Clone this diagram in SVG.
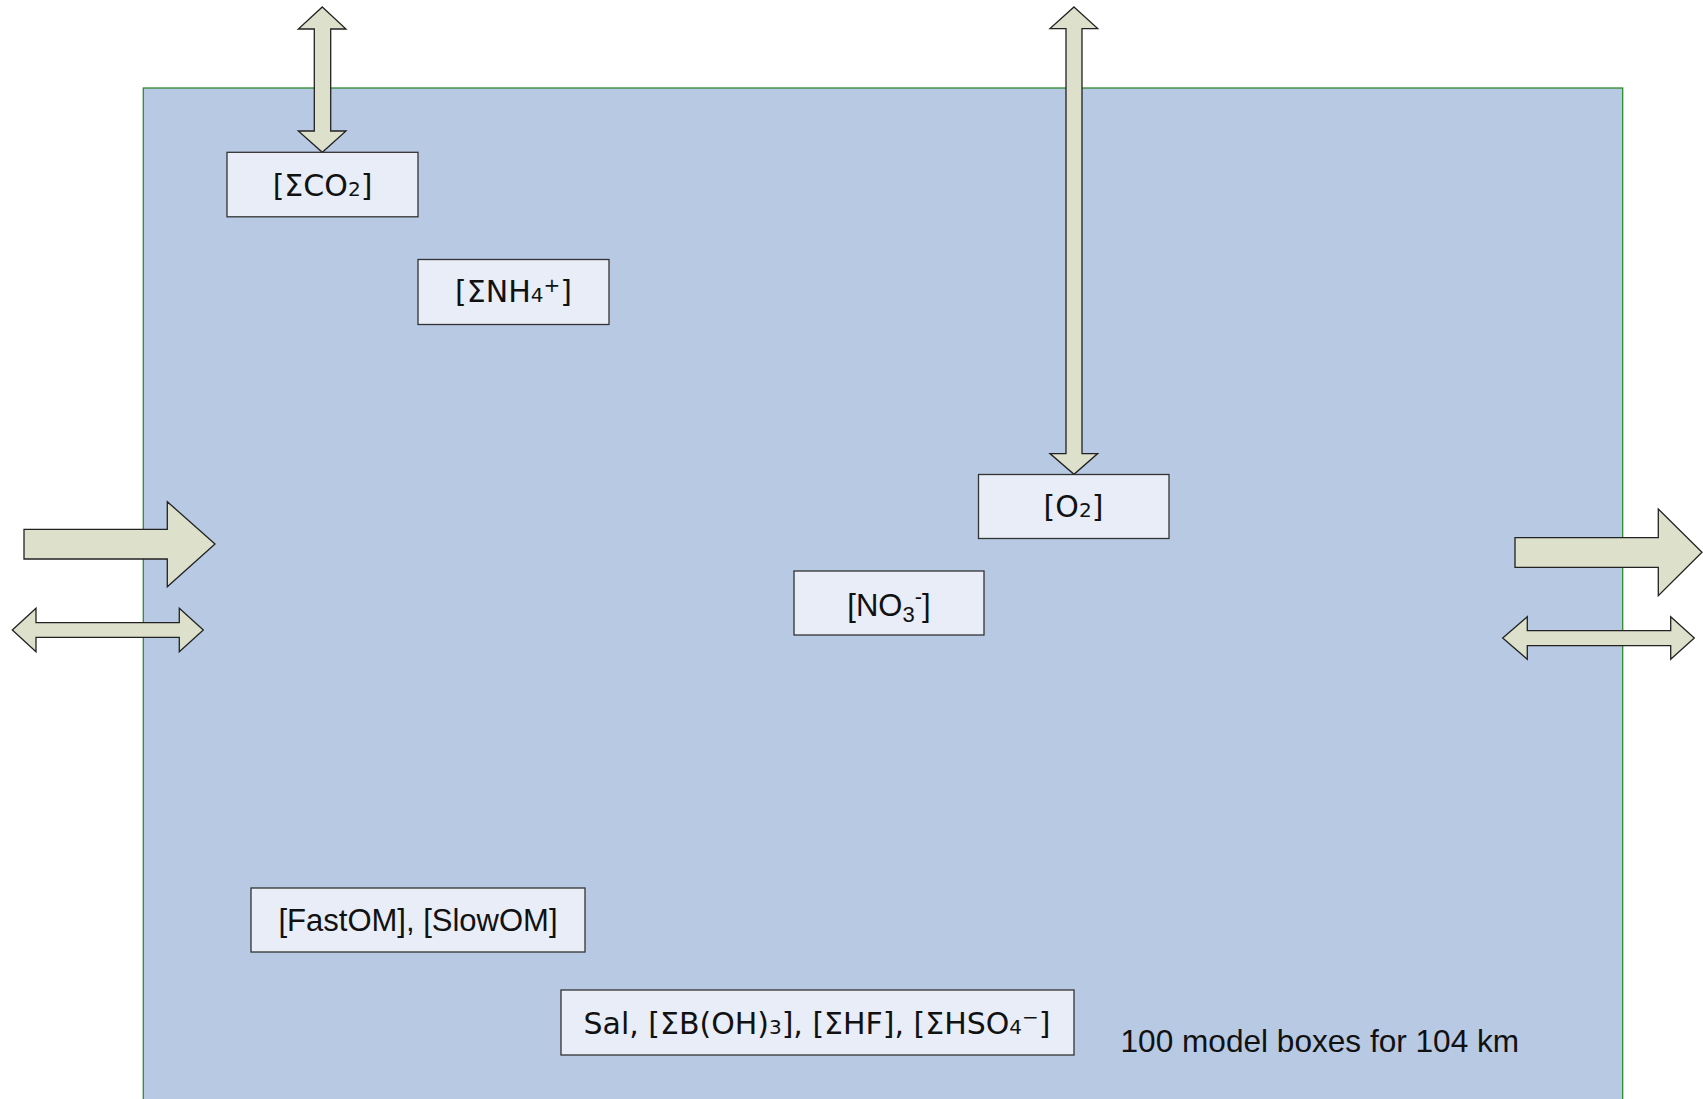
<svg xmlns="http://www.w3.org/2000/svg" width="1703" height="1099" viewBox="0 0 1703 1099">
<style>
.bg{fill:#B8C9E3;stroke:#2E8B2E;stroke-width:1.3}
.box{fill:#E8EDF7;stroke:#333;stroke-width:1.3}
.arr{fill:#DDE0CB;stroke:#222;stroke-width:1.3;stroke-linejoin:miter}
.t1{font-family:"DejaVu Sans",sans-serif;font-size:30px;fill:#111;text-anchor:middle}
.t2{font-family:"Liberation Sans",Arial,sans-serif;font-size:31px;fill:#111;text-anchor:middle}
.t3{font-family:"Liberation Sans",Arial,sans-serif;font-size:31.6px;fill:#111}
.s{font-size:20px}
</style>
<rect class="bg" x="143.3" y="88" width="1479.4" height="1030"/>
<g id="connectors">
<polygon class="arr" points="322.3,7 346,29 330.7,29 330.7,131 346,131 322.3,152.3 298.3,131 314.3,131 314.3,29 298.3,29"/>
<polygon class="arr" points="1074,7 1097.7,28.6 1082,28.6 1082,453.6 1097.7,453.6 1074,474.3 1050,453.6 1066,453.6 1066,28.6 1050,28.6"/>
<polygon class="arr" points="24,529.3 167.3,529.3 167.3,501.7 215,544 167.3,586.7 167.3,559 24,559"/>
<polygon class="arr" points="12.3,630 36,608.3 36,622.7 179.3,622.7 179.3,608.3 203.3,630 179.3,651.7 179.3,637.3 36,637.3 36,651.7"/>
<polygon class="arr" points="1515,537.7 1658.3,537.7 1658.3,509 1702,552.3 1658.3,595.7 1658.3,567.3 1515,567.3"/>
<polygon class="arr" points="1502.7,638 1527.3,616.7 1527.3,630.7 1670.7,630.7 1670.7,616.7 1694.3,638 1670.7,659.3 1670.7,645.7 1527.3,645.7 1527.3,659.3"/>
</g>
<g id="co2"><rect class="box" x="227" y="152.3" width="191" height="64.5"/><text class="t1" x="322.5" y="196">[ΣCO<tspan class="s">2</tspan>]</text></g>
<g id="nh4"><rect class="box" x="418" y="259.5" width="191" height="65"/><text class="t1" x="513.5" y="302">[ΣNH<tspan class="s">4</tspan><tspan class="s" dy="-10">+</tspan><tspan dy="10">]</tspan></text></g>
<g id="o2"><rect class="box" x="978.5" y="474.5" width="190.5" height="64"/><text class="t1" x="1073.5" y="517">[O<tspan class="s">2</tspan>]</text></g>
<g id="no3"><rect class="box" x="794" y="571" width="190" height="64"/><text class="t2" x="889" y="615.5">[NO<tspan font-size="22" dy="6">3</tspan><tspan font-size="22" dy="-18">-</tspan><tspan dy="12">]</tspan></text></g>
<g id="om"><rect class="box" x="251" y="888" width="334" height="64"/><text class="t2" x="418" y="931">[FastOM], [SlowOM]</text></g>
<g id="sal"><rect class="box" x="561" y="990" width="513" height="65"/><text class="t1" x="817" y="1033.5" textLength="467" lengthAdjust="spacingAndGlyphs">Sal, [ΣB(OH)<tspan class="s">3</tspan>], [ΣHF], [ΣHSO<tspan class="s">4</tspan><tspan class="s" dy="-10">−</tspan><tspan dy="10">]</tspan></text></g>
<text class="t3" x="1120.5" y="1051.5">100 model boxes for 104 km</text>
</svg>
